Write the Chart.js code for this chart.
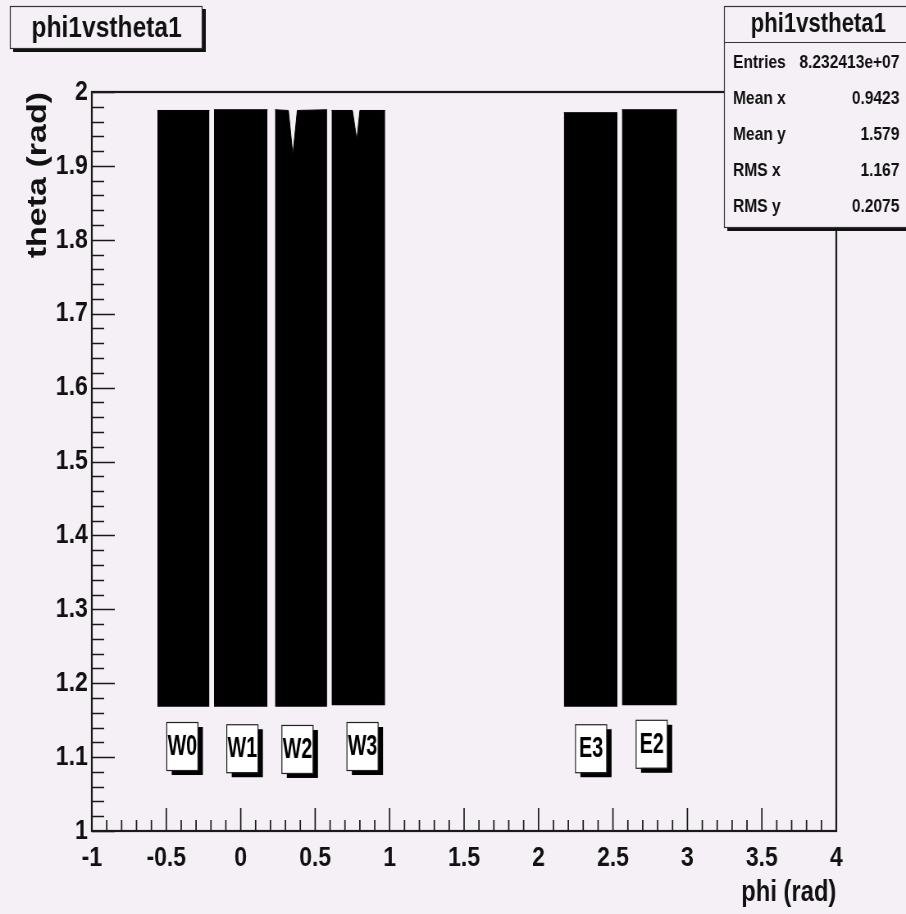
<!DOCTYPE html>
<html>
<head>
<meta charset="utf-8">
<title>phi1vstheta1</title>
<script src="https://cdn.jsdelivr.net/npm/chart.js@4.4.1/dist/chart.umd.min.js"></script>
<style>
  html, body { margin: 0; padding: 0; background: #f4f0f5; overflow: hidden; }
  /* the ROOT canvas is drawn wide and squeezed horizontally, like the original snapshot */
  #chart { display: block; width: 906px; height: 914px; }
</style>
</head>
<body>
<canvas id="chart" width="1105" height="914" style="width:906px;height:914px"></canvas>
<script>
// sectors seen in the histogram, extents in rad
const sectors = ["W0", "W1", "W2", "W3", "E3", "E2"];
const phiLow = [-0.56, -0.18, 0.23, 0.61, 2.17, 2.56];
const phiHigh = [-0.21, 0.18, 0.58, 0.97, 2.53, 2.93];
const thetaLow = [1.168, 1.168, 1.168, 1.17, 1.168, 1.17];
const thetaHigh = [1.975, 1.976, 1.976, 1.975, 1.972, 1.976];

// dips in the upper edge (W2, W3)
const notchPhi = [[], [], [0.32, 0.35, 0.38], [0.75, 0.78, 0.80], [], []];
const notchTheta = [[], [], [1.975, 1.915, 1.975], [1.975, 1.935, 1.975], [], []];

// where the sector tags sit
const labelPhi = [-0.392, 0.011, 0.381, 0.818, 2.353, 2.76];
const labelTheta = [1.115, 1.112, 1.111, 1.115, 1.112, 1.118];

const xTicks = [-1, -0.5, 0, 0.5, 1, 1.5, 2, 2.5, 3, 3.5, 4];
const xTickLabels = ["-1", "-0.5", "0", "0.5", "1", "1.5", "2", "2.5", "3", "3.5", "4"];
const yTicks = [1, 1.1, 1.2, 1.3, 1.4, 1.5, 1.6, 1.7, 1.8, 1.9, 2];
const yTickLabels = ["1", "1.1", "1.2", "1.3", "1.4", "1.5", "1.6", "1.7", "1.8", "1.9", "2"];

const statNames = ["Entries", "Mean x", "Mean y", "RMS x", "RMS y"];
const statValues = ["8.232413e+07", "0.9423", "1.579", "1.167", "0.2075"];

const histName = "phi1vstheta1";
const FONT = "'Liberation Sans', Arial, Helvetica, sans-serif";
const BG = "#f4f0f5";

const datasets = sectors.map((name, i) => {
    const pts = [{ x: phiLow[i], y: thetaHigh[i] }];
    notchPhi[i].forEach((p, k) => pts.push({ x: p, y: notchTheta[i][k] }));
    pts.push({ x: phiHigh[i], y: thetaHigh[i] });
    return {
        label: name,
        data: pts,
        borderColor: "#000",
        borderWidth: 1,
        backgroundColor: "#000",
        pointRadius: 0,
        tension: 0,
        fill: { value: thetaLow[i] }
    };
});

// ROOT style decorations: frame, inward ticks, tags, title and stats boxes
const rootDecor = {
    id: "rootDecor",
    afterDraw(chart) {
        const { ctx, chartArea: a, scales: { x, y } } = chart;
        ctx.save();

        // frame
        ctx.strokeStyle = "#1a1a1a";
        ctx.lineWidth = 2.2;
        ctx.strokeRect(a.left, a.top, a.right - a.left, a.bottom - a.top);

        // ticks
        ctx.lineWidth = 1.7;
        ctx.beginPath();
        const nx = Math.round((x.max - x.min) / 0.1);
        for (let k = 0; k <= nx; k++) {
            const px = x.getPixelForValue(x.min + k * 0.1);
            const len = k % 5 === 0 ? 23 : 11;
            ctx.moveTo(px, a.bottom);
            ctx.lineTo(px, a.bottom - len);
        }
        ctx.stroke();
        ctx.lineWidth = 1.4;
        ctx.beginPath();
        const ny = Math.round((y.max - y.min) / 0.02);
        for (let k = 0; k <= ny; k++) {
            const py = Math.round(y.getPixelForValue(y.min + k * 0.02)) + 0.5;
            const len = k % 5 === 0 ? 28 : 15;
            ctx.moveTo(a.left, py);
            ctx.lineTo(a.left + len, py);
        }
        ctx.stroke();

        // sector tags
        sectors.forEach((name, i) => {
            const cx = x.getPixelForValue(labelPhi[i]);
            const cy = y.getPixelForValue(labelTheta[i]);
            const w = 38, h = 48;
            ctx.fillStyle = "#000";
            ctx.fillRect(cx - w / 2 + 6, cy - h / 2 + 5, w, h);
            ctx.fillStyle = "#fff";
            ctx.fillRect(cx - w / 2, cy - h / 2, w, h);
            ctx.strokeStyle = "#222";
            ctx.lineWidth = 1.2;
            ctx.strokeRect(cx - w / 2, cy - h / 2 + 0.5, w, h);
            ctx.save();
            ctx.translate(cx, cy + 1);
            ctx.scale(0.8, 1);
            ctx.fillStyle = "#000";
            ctx.font = "bold 30px " + FONT;
            ctx.textAlign = "center";
            ctx.textBaseline = "middle";
            ctx.fillText(name, 0, 0);
            ctx.restore();
        });

        // title box
        ctx.fillStyle = "#111";
        ctx.fillRect(16, 9, 235, 43);
        ctx.fillStyle = BG;
        ctx.fillRect(12, 6, 235, 43);
        ctx.strokeStyle = "#333";
        ctx.lineWidth = 1.2;
        ctx.strokeRect(12.5, 6.5, 234, 42);
        ctx.fillStyle = "#111";
        ctx.font = "bold 30px " + FONT;
        ctx.textAlign = "center";
        ctx.textBaseline = "alphabetic";
        ctx.fillText(histName, 130, 37);

        // stats box
        ctx.fillStyle = "#111";
        ctx.fillRect(887, 9, 240, 222);
        ctx.fillStyle = BG;
        ctx.fillRect(883, 6, 240, 222);
        ctx.strokeStyle = "#333";
        ctx.strokeRect(883.5, 6.5, 240, 221);
        ctx.beginPath();
        ctx.moveTo(883, 42.5);
        ctx.lineTo(1105, 42.5);
        ctx.stroke();
        ctx.fillStyle = "#111";
        ctx.font = "bold 27px " + FONT;
        ctx.fillText(histName, 998, 32);
        ctx.font = "bold 19px " + FONT;
        statNames.forEach((n, i) => {
            const by = 68 + i * 36;
            ctx.textAlign = "left";
            ctx.fillText(n, 894, by);
            ctx.textAlign = "right";
            ctx.fillText(statValues[i], 1097, by);
        });

        ctx.restore();
    }
};

new Chart(document.getElementById("chart"), {
    type: "line",
    data: { datasets },
    options: {
        responsive: false,
        animation: false,
        devicePixelRatio: 1,
        layout: { padding: { left: 0, top: 92, right: 85, bottom: 0 } },
        plugins: {
            legend: { display: false },
            tooltip: { enabled: false }
        },
        scales: {
            x: {
                type: "linear",
                min: -1,
                max: 4,
                grid: { display: false, drawTicks: false },
                border: { display: false },
                afterBuildTicks: s => { s.ticks = xTicks.map(v => ({ value: v })); },
                afterFit: s => { s.height = 83; },
                ticks: {
                    autoSkip: false,
                    maxRotation: 0,
                    padding: 10,
                    color: "#111",
                    font: { family: FONT, size: 28, weight: "bold" },
                    callback: (v, i) => xTickLabels[i]
                },
                title: {
                    display: true,
                    text: "phi (rad)",
                    align: "end",
                    color: "#111",
                    padding: { top: 0, bottom: 4 },
                    font: { family: FONT, size: 29, weight: "bold" }
                }
            },
            y: {
                type: "linear",
                min: 1,
                max: 2,
                grid: { display: false, drawTicks: false },
                border: { display: false },
                afterBuildTicks: s => { s.ticks = yTicks.map(v => ({ value: v })); },
                afterFit: s => { s.width = 112; },
                ticks: {
                    autoSkip: false,
                    padding: 5,
                    color: "#111",
                    font: { family: FONT, size: 28, weight: "bold" },
                    callback: (v, i) => yTickLabels[i]
                },
                title: {
                    display: true,
                    text: "theta (rad)",
                    align: "end",
                    color: "#111",
                    padding: { top: 26, bottom: 0 },
                    font: { family: FONT, size: 34, weight: "bold" }
                }
            }
        }
    },
    plugins: [rootDecor]
});
</script>
</body>
</html>
